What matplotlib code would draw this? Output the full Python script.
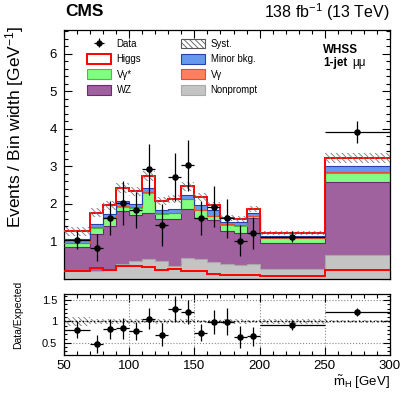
import numpy as np
import matplotlib
matplotlib.use("Agg")
import matplotlib.pyplot as plt
from matplotlib.patches import Patch
from matplotlib.ticker import MultipleLocator, FixedLocator, FixedFormatter

plt.rcParams['font.family'] = ['Liberation Sans', 'DejaVu Sans']
plt.rcParams['mathtext.fontset'] = 'custom'
plt.rcParams['mathtext.rm'] = 'Liberation Sans'
plt.rcParams['mathtext.it'] = 'Liberation Sans:italic'
plt.rcParams['mathtext.bf'] = 'Liberation Sans:bold'
plt.rcParams['hatch.linewidth'] = 0.6

# bin edges of m~H [GeV]
edges = [50, 70, 80, 90, 100, 110, 120, 130, 140, 150, 160, 170, 180, 190, 200, 250, 300]

# stacked contributions, events / bin width
nonprompt = [0.22, 0.22, 0.24, 0.41, 0.47, 0.54, 0.47, 0.34, 0.56, 0.54, 0.45, 0.40, 0.36, 0.40, 0.26, 0.65]
wz = [0.62, 0.99, 1.17, 1.40, 1.23, 1.22, 1.12, 1.27, 1.30, 1.08, 1.13, 0.89, 0.86, 1.22, 0.70, 1.93]
vgamma_star = [0.11, 0.16, 0.22, 0.12, 0.20, 0.54, 0.15, 0.15, 0.26, 0.22, 0.09, 0.16, 0.20, 0.06, 0.13, 0.24]
vgamma = [0.02, 0.01, 0.01, 0.02, 0.01, 0.02, 0.01, 0.01, 0.02, 0.01, 0.01, 0.01, 0.01, 0.01, 0.01, 0.02]
minor_bkg = [0.10, 0.09, 0.08, 0.12, 0.08, 0.10, 0.09, 0.09, 0.11, 0.12, 0.15, 0.07, 0.08, 0.08, 0.05, 0.16]
higgs = [0.20, 0.29, 0.25, 0.35, 0.35, 0.32, 0.24, 0.27, 0.22, 0.22, 0.14, 0.10, 0.10, 0.10, 0.08, 0.23]
syst = [0.12, 0.12, 0.12, 0.13, 0.12, 0.13, 0.10, 0.10, 0.12, 0.10, 0.09, 0.08, 0.08, 0.08, 0.06, 0.14]

# observed data
data = [1.03, 0.83, 1.63, 2.03, 1.83, 2.92, 1.43, 2.73, 3.03, 1.62, 1.93, 1.62, 1.02, 1.22, 1.13, 3.92]
data_err = [0.24, 0.36, 0.45, 0.58, 0.48, 0.69, 0.56, 0.64, 0.68, 0.45, 0.55, 0.52, 0.42, 0.43, 0.15, 0.30]

edges = np.array(edges, dtype=float)
centers = 0.5 * (edges[1:] + edges[:-1])
half_w = 0.5 * (edges[1:] - edges[:-1])

W, H = 407, 395
fig = plt.figure(figsize=(W / 100, H / 100), dpi=100)
ax = fig.add_axes([64 / W, 1 - 279 / H, 326 / W, 249.5 / H])
axr = fig.add_axes([64 / W, 1 - 354.5 / H, 326 / W, 60.5 / H])

# stack: nonprompt, WZ, Vgamma*, Vgamma, minor, Higgs
layers = [
    (nonprompt, '#c4c4c4', '#a8a8a8'),
    (wz, '#a0619f', '#6e2a6e'),
    (vgamma_star, '#80ff80', '#40c040'),
    (vgamma, '#ff8060', '#e05030'),
    (minor_bkg, '#6699ee', '#2244aa'),
    (higgs, 'white', 'red'),
]
base = np.zeros(len(centers))
for vals, fc, ec in layers:
    top = base + np.array(vals)
    ax.stairs(top, edges, baseline=base, fill=True, facecolor=fc, edgecolor='none', lw=0, zorder=2)
    lw = 1.4 if ec == 'red' else 0.8
    ax.stairs(top, edges, baseline=None, color=ec, lw=lw, zorder=3)
    base = top
total = base

# systematic band
syst = np.array(syst)
ax.stairs(total + syst, edges, baseline=total - syst, fill=True, facecolor='none',
          edgecolor='#777777', lw=0, hatch='\\\\\\\\\\\\', zorder=4)

# Higgs alone
ax.stairs(higgs, edges, baseline=None, color='red', lw=1.4, zorder=5)

data = np.array(data)
data_err = np.array(data_err)
ax.errorbar(centers, data, xerr=half_w, yerr=data_err, fmt='o', color='black',
            ms=3.7, lw=0.9, capsize=0, zorder=6)

ax.set_xlim(50, 300)
ax.set_ylim(0, 6.65)
ax.xaxis.set_major_locator(MultipleLocator(50))
ax.xaxis.set_minor_locator(MultipleLocator(10))
ax.yaxis.set_major_locator(FixedLocator([0, 1, 2, 3, 4, 5, 6]))
ax.yaxis.set_major_formatter(FixedFormatter(['', '1', '2', '3', '4', '5', '6']))
ax.yaxis.set_minor_locator(MultipleLocator(0.2))
ax.tick_params(axis='x', labelbottom=False)
for a in (ax, axr):
    a.tick_params(which='both', direction='in', top=True, right=True, width=0.8)
    a.tick_params(which='major', length=6)
    a.tick_params(which='minor', length=3)
    for s in a.spines.values():
        s.set_linewidth(0.9)
ax.tick_params(axis='y', labelsize=9.5, pad=5)

# legend
h_data = ax.errorbar([], [], xerr=[], yerr=[], fmt='o', color='black', ms=3.5, lw=0.9)
handles = [
    h_data,
    Patch(facecolor='white', edgecolor='red', lw=1.4),
    Patch(facecolor='#80ff80', edgecolor='#40c040', lw=0.8),
    Patch(facecolor='#a0619f', edgecolor='#6e2a6e', lw=0.8),
    Patch(facecolor='white', edgecolor='#555555', hatch='\\\\\\\\\\\\', lw=0.8),
    Patch(facecolor='#6699ee', edgecolor='#2244aa', lw=0.8),
    Patch(facecolor='#ff8060', edgecolor='#e05030', lw=0.8),
    Patch(facecolor='#c4c4c4', edgecolor='#a8a8a8', lw=0.8),
]
labels = ['Data', 'Higgs', 'V\u03b3*', 'WZ', 'Syst.', 'Minor bkg.', 'V\u03b3', 'Nonprompt']
ax.legend(handles, labels, ncol=2, loc='upper left', bbox_to_anchor=(0.045, 0.998),
          frameon=False, fontsize=6.9, handlelength=2.45, handleheight=1.2,
          labelspacing=0.55, columnspacing=4.2, handletextpad=0.6)

ax.text(0.794, 0.918, 'WHSS', transform=ax.transAxes, fontsize=8.4, fontweight='bold', va='center')
ax.text(0.794, 0.866, '1-jet', transform=ax.transAxes, fontsize=8.4, fontweight='bold', va='center')
ax.text(0.885, 0.866, '\u03bc\u03bc', transform=ax.transAxes, fontsize=8.4, va='center')

# ratio panel
ratio = data / total
ratio_err = data_err / total
axr.stairs(1 + syst / total, edges, baseline=1 - syst / total, fill=True, facecolor='none',
           edgecolor='#777777', lw=0, hatch='\\\\\\\\\\\\', zorder=2)
axr.axhline(1, color='black', lw=1.0, ls=':', zorder=3)
axr.errorbar(centers, ratio, xerr=half_w, yerr=ratio_err, fmt='o', color='black',
             ms=3.7, lw=0.9, capsize=0, zorder=5)
axr.set_xlim(50, 300)
axr.set_ylim(0.23, 1.64)
axr.xaxis.set_major_locator(MultipleLocator(50))
axr.xaxis.set_minor_locator(MultipleLocator(10))
axr.yaxis.set_major_locator(FixedLocator([0.5, 1, 1.5]))
axr.yaxis.set_major_formatter(FixedFormatter(['0.5', '1', '1.5']))
axr.yaxis.set_minor_locator(MultipleLocator(0.1))
axr.grid(True, which='major', ls=':', color='#888888', lw=0.8)
axr.tick_params(axis='y', labelsize=8, pad=5)
axr.tick_params(axis='x', labelsize=9.5, pad=4)
axr.tick_params(axis='y', which='major', length=5)
axr.tick_params(axis='y', which='minor', length=2.5)

fig.text(15 / W, 1 - 25 / H, 'Events / Bin width [GeV$^{-1}$]', rotation=90,
         ha='center', va='top', fontsize=12.5)
fig.text(18 / W, 1 - 315 / H, 'Data/Expected', rotation=90, ha='center', va='center', fontsize=7.5)
fig.text(390 / W, 1 - 382 / H, r'$\tilde{\mathrm{m}}_{\mathrm{H}}$ [GeV]', ha='right', va='center', fontsize=9.5)
fig.text(65 / W, 1 - 12 / H, 'CMS', ha='left', va='center', fontsize=12.5, fontweight='bold')
fig.text(390 / W, 1 - 12 / H, '138 fb$^{-1}$ (13 TeV)', ha='right', va='center', fontsize=11.5)

fig.savefig('out.png', dpi=100)
